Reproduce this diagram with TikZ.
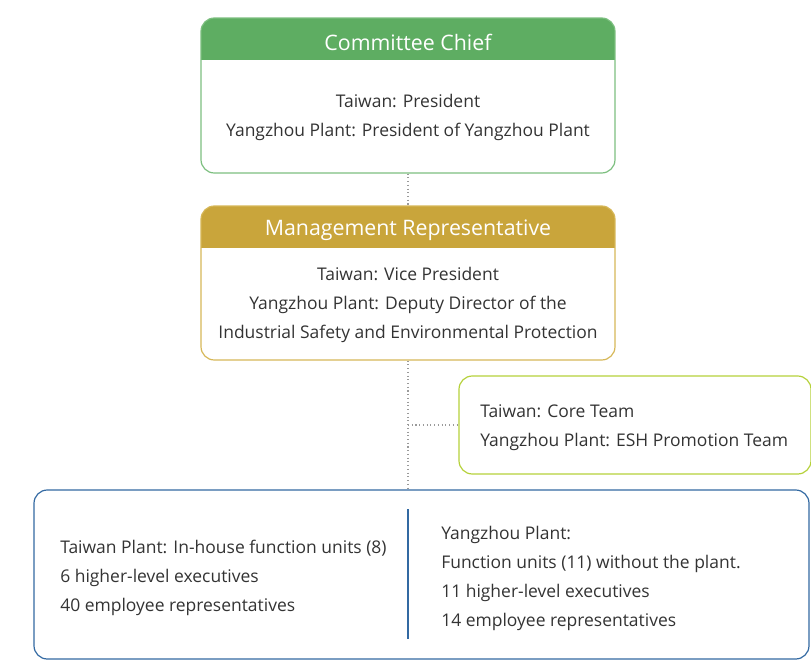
\documentclass[tikz,border=0pt]{standalone}
\usepackage{fontspec}
\setmainfont{Open Sans}
\usetikzlibrary{fit}
\definecolor{hdrgreen}{HTML}{5EAD62}
\definecolor{bdgreen}{HTML}{7CBF7F}
\definecolor{hdrgold}{HTML}{C9A53B}
\definecolor{bdgold}{HTML}{D6B757}
\definecolor{bdlime}{HTML}{B5D13A}
\definecolor{bdblue}{HTML}{3269A2}
\definecolor{txt}{HTML}{333333}
\definecolor{dotc}{HTML}{9A9A9A}
\begin{document}
\begin{tikzpicture}[x=0.75pt,y=-0.75pt,
  card/.style={inner sep=0pt, rounded corners=10pt, line width=0.9pt},
  hdrbox/.style={path picture={\fill[#1, sharp corners] (path picture bounding box.north west) rectangle ([yshift=-31.5pt]path picture bounding box.north east);}},
  hdrtext/.style={text=white, font=\fontsize{16}{19}\selectfont, inner sep=0pt},
  bodytext/.style={text=txt, font=\fontsize{13.1}{21.75}\selectfont, inner sep=0pt},
  link/.style={draw=dotc, dotted, line width=0.8pt}]
\useasboundingbox (0,0) rectangle (811,664);
% boxes
\node[card, draw=bdgreen, hdrbox=hdrgreen, fit={(201,18) (615,173)}] (chief) {};
\node[hdrtext] (chiefhdr) at (408,42) {Committee Chief};
\node[bodytext, align=center] (chieftxt) at (408,117) {Taiwan: President\\Yangzhou Plant: President of Yangzhou Plant};

\node[card, draw=bdgold, hdrbox=hdrgold, fit={(201,206) (615,360)}] (mgmt) {};
\node[hdrtext] (mgmthdr) at (408,230) {Management Representative};
\node[bodytext, align=center] (mgmttxt) at (408,305) {Taiwan: Vice President\\Yangzhou Plant: Deputy Director of the\\Industrial Safety and Environmental Protection};

\node[card, draw=bdlime, fit={(459,376) (811,474)}] (core) {};
\node[bodytext, align=left, anchor=west] (coretxt) at (480,428) {Taiwan: Core Team\\Yangzhou Plant: ESH Promotion Team};

\node[card, draw=bdblue, fit={(34,490) (809,659)}] (units) {};
\coordinate (divtop) at (408,509);
\coordinate (divbot) at (408,639);
\draw[bdblue, line width=0.9pt] (divtop) -- (divbot);
\node[bodytext, align=left, anchor=west] (lefttxt) at (60,578) {Taiwan Plant: In-house function units (8)\\6 higher-level executives\\40 employee representatives};
\node[bodytext, align=left, anchor=west] (righttxt) at (441,578) {Yangzhou Plant:\\Function units (11) without the plant.\\11 higher-level executives\\14 employee representatives};

% connectors
\draw[link] (chief.south) -- (mgmt.north);
\draw[link] (mgmt.south) -- (mgmt.south |- units.north);
\coordinate (branch) at (mgmt.south |- core.west);
\draw[link] (branch) -- (core.west);
\end{tikzpicture}
\end{document}
